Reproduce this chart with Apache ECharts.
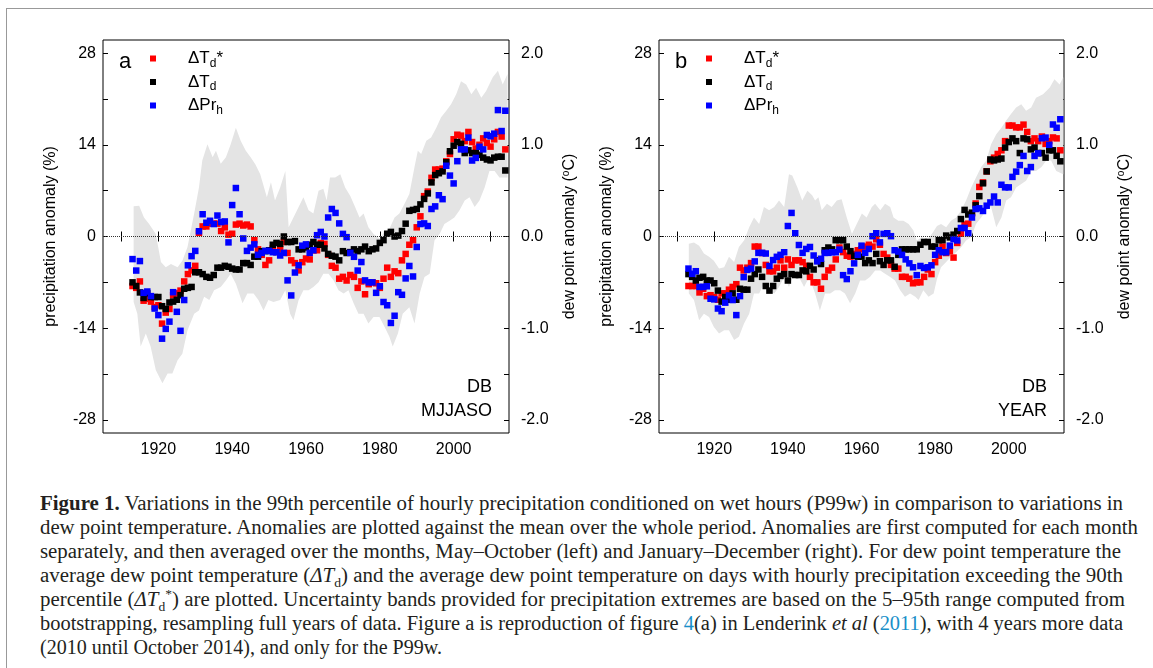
<!DOCTYPE html>
<html>
<head>
<meta charset="utf-8">
<script src="https://cdn.jsdelivr.net/npm/echarts@6/dist/echarts.min.js"></script>
<style>
html, body { margin: 0; padding: 0; background: #fff; }
#wrap { position: relative; width: 1153px; height: 668px; overflow: hidden; background: #fff; }
#frame { position: absolute; left: 6px; top: 8px; width: 1200px; height: 700px; border-left: 1px solid #999; border-top: 1px solid #999; }
#chart { position: absolute; left: 0; top: 0; width: 1153px; height: 480px; }
#caption { position: absolute; left: 40px; top: 491px; font-family: 'Liberation Serif', 'Times New Roman', serif; font-size: 20px; color: #231f20; }
.ln { height: 24px; line-height: 24px; white-space: nowrap; width: max-content; transform-origin: 0 50%; }
.ln sub, .ln sup { font-size: 13px; line-height: 0; }
.lk { color: #1a8fc9; }
</style>
</head>
<body>
<div id="wrap">
  <div id="frame"></div>
  <div id="chart"></div>
  <div id="caption">
    <div class="ln" data-w="1083"><b>Figure 1.</b> Variations in the 99th percentile of hourly precipitation conditioned on wet hours (P99w) in comparison to variations in</div>
    <div class="ln" data-w="1098">dew point temperature. Anomalies are plotted against the mean over the whole period. Anomalies are first computed for each month</div>
    <div class="ln" data-w="1081">separately, and then averaged over the months, May–October (left) and January–December (right). For dew point temperature the</div>
    <div class="ln" data-w="1083">average dew point temperature (<i>ΔT</i><sub>d</sub>) and the average dew point temperature on days with hourly precipitation exceeding the 90th</div>
    <div class="ln" data-w="1085">percentile (<i>ΔT</i><sub>d</sub><sup>*</sup>) are plotted. Uncertainty bands provided for precipitation extremes are based on the 5–95th range computed from</div>
    <div class="ln" data-w="1083">bootstrapping, resampling full years of data. Figure a is reproduction of figure <span class="lk">4</span>(a) in Lenderink <i>et al</i> (<span class="lk">2011</span>), with 4 years more data</div>
    <div class="ln" data-w="402">(2010 until October 2014), and only for the P99w.</div>
  </div>
</div>
<script>
// years of the annual points
var years = [];
for (var yr = 1913; yr <= 2014; yr++) years.push(yr);

// panel a (MJJASO): dew point anomalies in degC, precipitation anomaly in %
var tdStarA = [-0.54,-0.56,-0.49,-0.70,-0.68,-0.71,-0.77,-0.75,-0.95,-0.83,
  -0.79,-0.64,-0.62,-0.59,-0.49,-0.41,-0.37,-0.32,0.04,0.11,
  0.11,0.14,0.14,0.14,0.06,0.10,0.02,0.03,0.13,0.14,
  0.12,0.13,0.11,-0.04,-0.14,-0.20,-0.31,-0.26,-0.13,-0.17,
  -0.14,-0.06,-0.18,-0.26,-0.29,-0.37,-0.28,-0.24,-0.25,-0.15,
  -0.15,-0.07,-0.08,-0.20,-0.32,-0.34,-0.46,-0.44,-0.48,-0.42,
  -0.44,-0.56,-0.49,-0.63,-0.52,-0.50,-0.51,-0.56,-0.46,-0.34,
  -0.44,-0.38,-0.40,-0.26,-0.19,-0.09,-0.04,0.10,0.22,0.44,
  0.49,0.64,0.73,0.73,0.74,0.82,0.90,1.06,1.11,1.10,
  1.04,1.14,1.03,0.96,1.00,1.07,1.02,0.98,1.06,1.14,
  1.09,0.95];
var tdA = [-0.50,-0.54,-0.61,-0.67,-0.62,-0.66,-0.66,-0.66,-0.76,-0.79,
  -0.72,-0.71,-0.69,-0.64,-0.57,-0.56,-0.55,-0.39,-0.39,-0.41,
  -0.44,-0.45,-0.42,-0.34,-0.34,-0.32,-0.33,-0.35,-0.36,-0.36,
  -0.29,-0.29,-0.31,-0.22,-0.22,-0.16,-0.16,-0.15,-0.09,-0.07,
  -0.08,0.00,-0.06,-0.06,-0.05,-0.14,-0.14,-0.12,-0.09,-0.06,
  -0.09,-0.09,-0.13,-0.19,-0.21,-0.22,-0.26,-0.16,-0.18,-0.17,
  -0.14,-0.16,-0.14,-0.11,-0.16,-0.14,-0.13,-0.07,-0.04,0.03,
  0.05,0.00,0.01,0.06,0.14,0.28,0.29,0.30,0.35,0.41,
  0.47,0.59,0.67,0.69,0.71,0.81,0.93,0.99,1.03,1.01,
  0.91,0.94,0.91,0.91,0.89,0.86,0.84,0.83,0.86,0.87,
  0.87,0.72];
var prA = [-3.45,-5.2,-3.75,-8.6,-8.4,-9.1,-11.0,-12.0,-15.6,-14.1,
  -13.0,-8.5,-11.5,-14.4,-9.7,-4.4,-3.0,-2.2,0.8,3.4,
  2.1,2.4,1.9,3.2,2.2,2.3,-0.9,4.8,7.4,3.4,
  -0.3,-2.2,-1.7,-1.2,-2.8,-2.5,-2.2,-2.2,-2.4,-2.4,
  -2.9,-2.5,-6.7,-9.0,-5.5,-4.4,-1.4,-1.2,-2.5,-2.1,
  0.2,0.7,0.0,2.9,4.2,3.6,2.0,0.4,-0.1,-2.5,
  -3.1,-5.2,-3.9,-6.7,-7.0,-7.0,-8.6,-7.6,-10.0,-10.5,
  -13.2,-12.1,-8.5,-8.9,-6.4,-4.5,-6.1,-1.6,1.9,2.0,
  1.6,4.2,4.6,6.3,5.7,10.8,9.3,8.1,11.5,13.3,
  13.3,15.1,11.6,12.0,13.7,13.3,15.5,15.3,15.7,19.3,
  16.1,19.2];

// panel b (YEAR)
var tdStarB = [-0.54,-0.54,-0.54,-0.61,-0.57,-0.65,-0.64,-0.66,-0.69,-0.62,
  -0.62,-0.58,-0.55,-0.52,-0.34,-0.37,-0.34,-0.29,-0.11,-0.11,
  -0.18,-0.31,-0.38,-0.38,-0.34,-0.26,-0.34,-0.25,-0.31,-0.26,
  -0.26,-0.28,-0.32,-0.44,-0.50,-0.50,-0.57,-0.44,-0.37,-0.34,
  -0.25,-0.12,-0.17,-0.21,-0.22,-0.19,-0.15,-0.14,-0.11,-0.09,
  -0.11,-0.03,-0.09,-0.19,-0.23,-0.31,-0.35,-0.35,-0.44,-0.44,
  -0.46,-0.51,-0.50,-0.50,-0.44,-0.36,-0.41,-0.28,-0.21,-0.11,
  -0.18,-0.16,-0.23,-0.07,0.03,0.13,0.14,0.25,0.36,0.54,
  0.59,0.71,0.82,0.86,0.90,0.94,1.04,1.21,1.21,1.19,
  1.19,1.22,1.14,1.04,1.07,1.04,1.09,1.01,1.04,1.08,
  1.07,0.94];
var tdB = [-0.41,-0.44,-0.48,-0.45,-0.44,-0.48,-0.48,-0.51,-0.59,-0.71,
  -0.66,-0.69,-0.62,-0.69,-0.57,-0.58,-0.58,-0.46,-0.41,-0.36,
  -0.44,-0.54,-0.59,-0.54,-0.46,-0.43,-0.41,-0.48,-0.41,-0.42,
  -0.42,-0.37,-0.38,-0.32,-0.36,-0.26,-0.30,-0.15,-0.12,-0.14,
  -0.04,-0.04,-0.04,-0.11,-0.16,-0.21,-0.22,-0.22,-0.29,-0.26,
  -0.29,-0.19,-0.27,-0.31,-0.26,-0.26,-0.33,-0.20,-0.14,-0.14,
  -0.14,-0.14,-0.14,-0.09,-0.06,-0.06,-0.11,-0.11,-0.04,-0.04,
  0.01,-0.01,0.02,0.06,0.19,0.29,0.24,0.26,0.34,0.44,
  0.58,0.71,0.84,0.83,0.84,0.85,0.97,1.03,1.07,1.04,
  0.91,1.07,1.06,0.95,0.97,0.91,0.91,0.86,0.94,0.94,
  0.88,0.82];
var prB = [-4.9,-5.7,-5.3,-7.7,-7.7,-7.6,-9.5,-9.6,-11.0,-11.4,
  -10.1,-9.0,-9.7,-12.0,-9.1,-6.2,-5.1,-4.9,-3.8,-2.5,
  -2.5,-2.6,-4.5,-3.6,-3.1,-2.8,-2.4,1.6,3.6,0.5,
  -1.3,-2.5,-1.9,-1.6,-2.9,-3.8,-3.4,-2.5,-2.5,-2.4,
  -2.4,-2.0,-5.9,-6.5,-5.3,-4.1,-2.8,-1.4,-2.5,-1.9,
  0.05,0.5,-0.9,0.4,0.5,0.05,-2.1,-2.3,-2.8,-3.5,
  -4.1,-4.7,-5.9,-4.5,-4.8,-4.7,-4.4,-2.8,-2.1,-2.4,
  -2.4,-1.4,-0.4,-0.6,1.3,1.3,0.5,2.9,4.2,4.3,
  3.9,4.7,5.2,6.1,5.2,7.9,7.5,7.5,9.1,9.9,
  10.9,12.3,10.0,10.6,12.3,12.7,15.0,15.1,14.0,17.1,
  16.6,17.9];

// 5-95% uncertainty band edges of the precipitation anomaly, [year, %]
var bandAUp = [[1913.3,4.6],[1914.8,4.7],[1916.1,2.9],[1917.5,1.9],[1919.3,0.4],[1920.7,-3.9],[1922,-4.7],[1923.4,-4.2],[1925.2,-4.7],[1926.5,-3.7],[1927.9,-1.6],[1929.7,3.5],[1931,7.5],[1931.9,11.6],[1933.3,14.1],[1934.7,12.1],[1935.6,13.1],[1936.9,11.1],[1938.3,12.1],[1939.6,14.1],[1941,16.6],[1942.3,14.6],[1943.7,13.1],[1945,12.1],[1946.3,11.0],[1947.6,9.5],[1949.4,6.0],[1950.5,8.3],[1951.6,5.5],[1953,7.5],[1954.4,10.0],[1955.3,1.4],[1956.6,2.9],[1958,4.5],[1959.3,6.0],[1960.7,4.0],[1962,3.5],[1963.4,7.0],[1964.7,7.3],[1965.6,5.5],[1966.5,9.0],[1967.9,9.0],[1969.3,9.5],[1970.6,7.5],[1972,6.2],[1973.3,4.5],[1974.5,2.9],[1975.6,3.5],[1976.9,1.4],[1978.3,0.4],[1979.9,-0.3],[1981.3,0.7],[1982.6,1.2],[1984,2.9],[1985.3,3.5],[1986.7,5.0],[1988,6.5],[1989.4,10.6],[1990.3,13.1],[1991.2,12.6],[1992.6,14.6],[1993.9,15.1],[1995.3,16.6],[1996.6,18.2],[1998,19.2],[1999.3,20.2],[2000.7,21.7],[2002,23.7],[2003.4,23.2],[2004.8,21.7],[2006.1,22.7],[2007.5,21.2],[2008.8,22.2],[2010.6,24.3],[2012,25.3],[2013.3,23.2],[2014.6,24.8]];
var bandALow = [[1913.3,-10.0],[1914.3,-11.8],[1915.2,-16.8],[1916.6,-14.8],[1917.9,-16.8],[1919.3,-20.4],[1921.1,-22.4],[1922.5,-20.9],[1923.8,-20.9],[1925.2,-18.9],[1926.5,-17.9],[1927.9,-14.3],[1929.7,-11.8],[1931,-11.3],[1932.4,-9.2],[1933.8,-9.7],[1935.1,-8.2],[1936.9,-7.7],[1938.3,-6.7],[1939.6,-5.7],[1941,-7.2],[1942.8,-10.2],[1944.1,-8.7],[1945.8,-8.7],[1947.1,-9.7],[1948.5,-11.3],[1949.8,-9.7],[1951.2,-10.0],[1953,-9.7],[1954.4,-8.2],[1955.7,-11.8],[1956.6,-12.8],[1958,-9.7],[1959.3,-8.2],[1960.7,-8.2],[1962,-7.7],[1963.4,-7.0],[1964.7,-5.7],[1966.1,-5.7],[1967.5,-6.7],[1968.8,-8.2],[1970.2,-8.7],[1971.5,-8.2],[1972.9,-10.2],[1974.2,-11.8],[1975.6,-11.8],[1976.9,-13.3],[1978.3,-12.3],[1979.9,-12.3],[1981.3,-13.8],[1982.6,-15.3],[1983.5,-16.8],[1984.9,-14.8],[1986.2,-11.8],[1988,-10.8],[1989.4,-13.3],[1990.8,-8.7],[1992.1,-6.2],[1993.5,-5.7],[1994.8,-0.6],[1996.2,0.4],[1997.5,1.9],[1998.9,2.4],[2000.2,2.9],[2001.6,4.0],[2003,5.5],[2004.3,6.0],[2005.7,4.5],[2007,5.5],[2008.4,7.5],[2009.7,10.0],[2011.1,10.0],[2012.4,9.0],[2014.6,9.0]];
var bandBUp = [[1913.1,-1.1],[1914.5,-0.9],[1915.9,-1.4],[1917.2,-2.6],[1918.6,-3.1],[1919.9,-3.7],[1921.3,-4.9],[1922.7,-4.7],[1924,-3.1],[1925.4,-3.9],[1926.7,-1.6],[1928.1,-0.6],[1929.5,1.4],[1930.8,2.9],[1932.2,1.9],[1933.5,4.5],[1934.9,4.0],[1936.3,4.5],[1937.6,5.5],[1939,4.5],[1940.3,9.5],[1941.2,9.3],[1942.6,7.5],[1943.9,5.5],[1945.3,7.0],[1946.6,6.3],[1947.4,5.5],[1948.3,6.0],[1949.2,4.0],[1950.6,5.0],[1951.9,4.5],[1953.3,5.5],[1954.6,5.7],[1956,2.9],[1957.4,0.4],[1958.7,1.9],[1960.1,3.5],[1961.4,2.9],[1962.8,4.5],[1963.7,5.0],[1965.1,4.0],[1966.4,5.0],[1967.8,4.5],[1968.7,2.9],[1970,2.4],[1971.4,2.4],[1972.8,1.9],[1974.1,0.9],[1975,-0.6],[1976.4,-0.1],[1977.7,-0.6],[1979.1,0.4],[1980.5,1.6],[1981.6,1.9],[1983,1.4],[1984.3,2.4],[1985.7,2.9],[1987.1,4.0],[1988.4,5.5],[1989.8,7.5],[1991.1,9.0],[1992.5,10.6],[1993.9,11.6],[1995.2,14.1],[1996.6,15.6],[1998,16.6],[1999.3,17.7],[2000.6,18.7],[2002,19.7],[2003.4,20.2],[2004.7,19.2],[2006.1,19.7],[2007.4,21.2],[2009.3,21.7],[2011.1,22.7],[2012.4,24.0],[2013.8,23.2],[2014.8,24.3]];
var bandBLow = [[1913.1,-8.7],[1914.5,-9.7],[1915.9,-12.8],[1917.2,-11.8],[1918.6,-12.3],[1919.9,-13.8],[1921.3,-14.8],[1922.7,-14.3],[1924,-14.3],[1925.4,-15.8],[1926.7,-15.3],[1928.1,-13.3],[1929.5,-11.8],[1930.8,-8.7],[1932.2,-8.7],[1933.5,-7.2],[1934.9,-8.2],[1936.3,-8.7],[1937.6,-7.7],[1939,-6.2],[1940.3,-7.7],[1941.7,-5.7],[1943,-6.2],[1944.4,-7.7],[1945.8,-6.2],[1947.4,-8.7],[1948.7,-11.3],[1950.1,-8.7],[1951.5,-8.7],[1952.8,-8.2],[1954.2,-8.2],[1955.5,-8.7],[1956.9,-10.2],[1958.3,-8.7],[1959.6,-6.7],[1961,-6.7],[1962.3,-6.2],[1963.7,-5.2],[1965.1,-5.2],[1966.4,-5.7],[1967.8,-6.2],[1969.1,-6.7],[1970.5,-8.2],[1971.8,-9.2],[1973.2,-8.7],[1974.6,-9.2],[1975.5,-9.7],[1976.8,-8.2],[1978.2,-9.2],[1979.6,-8.7],[1980.5,-6.5],[1981.6,-4.7],[1983,-3.9],[1984.3,-3.1],[1985.7,-2.4],[1987.1,-1.6],[1988.4,-0.6],[1989.8,-0.1],[1991.1,1.9],[1992.5,2.9],[1993.9,4.0],[1995.2,4.5],[1996.6,1.4],[1998,2.9],[1999.3,5.5],[2000.6,6.0],[2002,7.5],[2003.4,8.0],[2004.7,8.5],[2006.1,10.0],[2007.4,10.0],[2008.9,10.6],[2010.2,11.6],[2011.5,11.6],[2012.9,10.0],[2014.8,9.5]];

// ticks and labels
var yearTicks = [1910,1920,1930,1940,1950,1960,1970,1980,1990,2000,2010];
var yearLabels = [1920,1940,1960,1980,2000];
var precipTicks = [-28,-21,-14,-7,0,7,14,21,28];
var precipLabels = [-28,-14,0,14,28];
var dewTicks = [-2,-1.5,-1,-0.5,0,0.5,1,1.5,2];
var dewLabels = [-2,-1,0,1,2];

var FONT = "'Liberation Sans', Arial, sans-serif";
var chart = echarts.init(document.getElementById('chart'), null, {renderer: 'canvas'});

function pts(vals) {
  return years.map(function (y, i) { return [y, vals[i]]; });
}

function bandSeries(up, low, xi, yi) {
  return {
    type: 'custom', xAxisIndex: xi, yAxisIndex: yi, silent: true, z: 1,
    data: [[up[0][0], up[0][1]]],
    encode: {x: 0, y: 1},
    renderItem: function (params, api) {
      var p = up.map(function (d) { return api.coord(d); })
        .concat(low.slice().reverse().map(function (d) { return api.coord(d); }));
      return {type: 'polygon', shape: {points: p}, style: {fill: '#e4e4e4'}};
    }
  };
}

function dots(name, color, data, xi, yi) {
  return {
    name: name, type: 'scatter', xAxisIndex: xi, yAxisIndex: yi,
    symbol: 'rect', symbolSize: 6.5, silent: true, z: 3,
    itemStyle: {color: color, opacity: 1},
    data: data
  };
}

var xAxes = [], yAxes = [];
[0, 1].forEach(function (g) {
  xAxes.push({
    type: 'value', gridIndex: g, position: 'bottom', min: 1905, max: 2015,
    axisLine: {show: false}, splitLine: {show: false},
    axisTick: {inside: true, length: 5, customValues: yearTicks, lineStyle: {color: '#000'}},
    axisLabel: {
      customValues: yearLabels, margin: 9, fontFamily: FONT, fontSize: 16, color: '#000',
      formatter: function (v) { return String(v); }
    }
  });
  xAxes.push({
    type: 'value', gridIndex: g, position: 'top', min: 1905, max: 2015,
    axisLine: {show: false}, splitLine: {show: false}, axisLabel: {show: false},
    axisTick: {inside: true, length: 5, customValues: yearTicks, lineStyle: {color: '#000'}}
  });
  yAxes.push({
    type: 'value', gridIndex: g, position: 'left', min: -30, max: 30,
    name: 'precipitation anomaly (%)', nameLocation: 'middle', nameRotate: 90, nameGap: 44,
    nameTextStyle: {fontFamily: FONT, fontSize: 16, color: '#000'},
    axisLine: {show: false}, splitLine: {show: false},
    axisTick: {inside: true, length: 5, customValues: precipTicks, lineStyle: {color: '#000'}},
    axisLabel: {customValues: precipLabels, margin: 7, fontFamily: FONT, fontSize: 16, color: '#000'}
  });
  yAxes.push({
    type: 'value', gridIndex: g, position: 'right', min: -30 / 14, max: 30 / 14,
    name: '{t|dew point anomaly (}{u|o}{t|C)}', nameLocation: 'middle', nameRotate: 90, nameGap: 52,
    nameTextStyle: {
      fontFamily: FONT, fontSize: 16, color: '#000',
      rich: {t: {fontFamily: FONT, fontSize: 16, color: '#000'}, u: {fontFamily: FONT, fontSize: 10, color: '#000', padding: [0, 0, 8, 0]}}
    },
    axisLine: {show: false}, splitLine: {show: false},
    axisTick: {inside: true, length: 5, customValues: dewTicks, lineStyle: {color: '#000'}},
    axisLabel: {
      customValues: dewLabels, margin: 12, fontFamily: FONT, fontSize: 16, color: '#000',
      formatter: function (v) { return v.toFixed(1); }
    }
  });
});

var legendRich = {
  'ΔTd*': '{m|ΔT}{s|d}{m|*}',
  'ΔTd': '{m|ΔT}{s|d}',
  'ΔPrh': '{m|ΔPr}{s|h}'
};
function legendAt(left) {
  return {
    orient: 'vertical', left: left, top: 44, itemWidth: 6, itemHeight: 6, itemGap: 3,
    selectedMode: false,
    data: [{name: 'ΔTd*', icon: 'rect'}, {name: 'ΔTd', icon: 'rect'}, {name: 'ΔPrh', icon: 'rect'}],
    formatter: function (n) { return legendRich[n]; },
    textStyle: {
      fontFamily: FONT, fontSize: 17, color: '#000', lineHeight: 19, padding: [0, 0, 0, 27],
      rich: {
        m: {fontFamily: FONT, fontSize: 17, color: '#000'},
        s: {fontFamily: FONT, fontSize: 12, color: '#000', padding: [10, 0, 0, 0]}
      }
    }
  };
}

var zeroLine = {
  silent: true, symbol: 'none', label: {show: false},
  lineStyle: {type: 'dotted', color: '#333', width: 1},
  data: [{yAxis: 0}]
};

var series = [
  bandSeries(bandAUp, bandALow, 0, 0),
  dots('ΔTd*', '#ff0000', pts(tdStarA), 0, 1),
  dots('ΔTd', '#000000', pts(tdA), 0, 1),
  dots('ΔPrh', '#0000ff', pts(prA), 0, 0),
  bandSeries(bandBUp, bandBLow, 2, 2),
  dots('ΔTd*', '#ff0000', pts(tdStarB), 2, 3),
  dots('ΔTd', '#000000', pts(tdB), 2, 3),
  dots('ΔPrh', '#0000ff', pts(prB), 2, 2)
];
series[3].markLine = zeroLine;
series[7].markLine = zeroLine;

chart.setOption({
  animation: false,
  backgroundColor: 'transparent',
  grid: [
    {left: 103, top: 40, width: 406, height: 393, show: true, borderColor: '#000', borderWidth: 1, containLabel: false},
    {left: 659, top: 40, width: 405, height: 393, show: true, borderColor: '#000', borderWidth: 1, containLabel: false}
  ],
  xAxis: xAxes,
  yAxis: yAxes,
  legend: [legendAt(145), legendAt(701)],
  graphic: [
    {type: 'text', x: 119, y: 51, style: {text: 'a', font: '22px ' + FONT, fill: '#000'}},
    {type: 'text', x: 675, y: 51, style: {text: 'b', font: '22px ' + FONT, fill: '#000'}},
    {type: 'text', x: 492, y: 375, style: {text: 'DB\nMJJASO', font: '18px ' + FONT, fill: '#000', align: 'right', textAlign: 'right', lineHeight: 24}},
    {type: 'text', x: 1047, y: 375, style: {text: 'DB\nYEAR', font: '18px ' + FONT, fill: '#000', align: 'right', textAlign: 'right', lineHeight: 24}}
  ],
  series: series
});

// squeeze every caption line to the width it has in the figure
function fitCaption() {
  var lines = document.querySelectorAll('#caption .ln');
  for (var i = 0; i < lines.length; i++) {
    var el = lines[i];
    el.style.transform = 'none';
    var w = el.getBoundingClientRect().width;
    var target = parseFloat(el.getAttribute('data-w'));
    if (w > 0) el.style.transform = 'scaleX(' + (target / w) + ')';
  }
}
fitCaption();
if (document.fonts && document.fonts.ready) document.fonts.ready.then(fitCaption);
</script>
</body>
</html>
